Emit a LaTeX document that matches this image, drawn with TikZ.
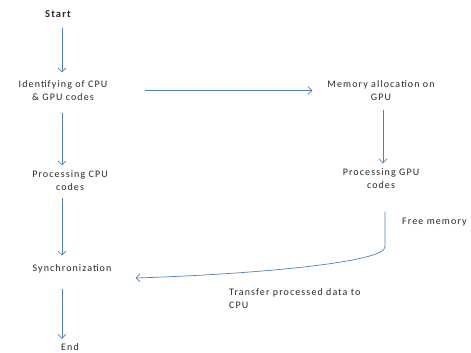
\documentclass[tikz,border=0pt]{standalone}
\usepackage{fontspec}
\setmainfont{Carlito}[LetterSpace=11]
\usetikzlibrary{arrows.meta}
\definecolor{arrblue}{RGB}{79,129,189}
\definecolor{txt}{RGB}{40,40,40}
\tikzset{
  lbl/.style={font=\fontsize{10}{13}\selectfont, text=txt, align=center, inner sep=0pt},
  lbll/.style={lbl, align=left, anchor=west},
  arr/.style={draw=arrblue, line width=0.7pt, -{Straight Barb[length=4pt,width=8pt]}},
}
\begin{document}
\begin{tikzpicture}[x=1pt,y=-1pt]
\useasboundingbox (0,0) rectangle (471,353);
\coordinate (col) at (62,0);
\coordinate (gcol) at (383,0);
\node[lbl, font=\fontsize{10.5}{13}\selectfont\bfseries] (start) at (58,14) {Start};
\node[lbl] (ident) at (63,90.5) {Identifying of CPU\\\& GPU codes};
\node[lbl] (pcpu) at (70,180.5) {Processing CPU\\codes};
\node[lbl] (sync) at (72,269) {Synchronization};
\node[lbl] (end) at (70,347.5) {End};
\node[lbl] (mem) at (381,90.5) {Memory allocation on\\GPU};
\node[lbl] (pgpu) at (381,178.5) {Processing GPU\\codes};
\node[lbll] (free) at (402,222) {Free memory};
\node[lbll] (trans) at (229,298.5) {Transfer processed data to\\CPU};
\coordinate (bend) at (385,247);
\draw[arr] ([yshift=-10pt]start.south -| col) -- ([yshift=8pt]ident.north -| col);
\draw[arr] ([yshift=-12pt]ident.south -| col) -- ([yshift=5pt]pcpu.north -| col);
\draw[arr] ([yshift=-7pt]pcpu.south -| col) -- ([yshift=9pt]sync.north -| col);
\draw[arr] ([yshift=-16pt]sync.south -| col) -- ([yshift=5pt]end.north -| col);
\draw[arr] ([xshift=38pt]ident.east |- ident.center) -- ([xshift=-15pt]mem.west |- ident.center);
\draw[arr] ([yshift=-9pt]mem.south -| gcol) -- ([yshift=5pt]pgpu.north -| gcol);
\draw[arr] ([yshift=-23pt]pgpu.south -| bend) -- (bend) .. controls (385,262) and (260,274) .. ([xshift=24pt,yshift=-9pt]sync.east);
\end{tikzpicture}
\end{document}
